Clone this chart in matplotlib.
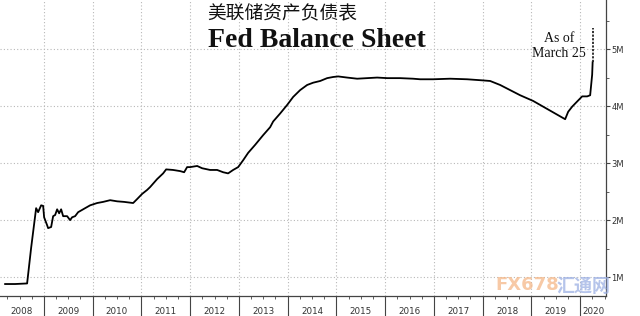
import matplotlib
matplotlib.use("Agg")
import matplotlib.pyplot as plt
from matplotlib.ticker import FixedLocator, NullFormatter

# ---- data (decimal year, trillions) ----
years = [2008.205, 2008.410, 2008.656, 2008.738, 2008.841, 2008.882, 2008.944, 2008.985,
         2009.005, 2009.067, 2009.087, 2009.149, 2009.190, 2009.231, 2009.272, 2009.313,
         2009.354, 2009.395, 2009.477, 2009.538, 2009.579, 2009.641, 2009.703, 2009.785,
         2009.846, 2009.949, 2010.092, 2010.215, 2010.359, 2010.503, 2010.646, 2010.831,
         2010.913, 2011.015, 2011.118, 2011.179, 2011.323, 2011.446, 2011.508, 2011.651,
         2011.795, 2011.877, 2011.938, 2012.000, 2012.144, 2012.246, 2012.410, 2012.554,
         2012.677, 2012.779, 2012.882, 2012.985, 2013.087, 2013.190, 2013.333, 2013.497,
         2013.641, 2013.703, 2013.846, 2013.990, 2014.113, 2014.256, 2014.400, 2014.523,
         2014.667, 2014.810, 2014.933, 2015.036, 2015.220, 2015.426, 2015.631, 2015.836,
         2016.041, 2016.308, 2016.574, 2016.718, 2016.985, 2017.333, 2017.682, 2018.010,
         2018.154, 2018.359, 2018.564, 2018.769, 2019.036, 2019.241, 2019.446, 2019.692,
         2019.754, 2019.836, 2019.938, 2020.041, 2020.144, 2020.205, 2020.246, 2020.256]
values = [0.88, 0.88, 0.89, 1.51, 2.21, 2.14, 2.26, 2.25,
          2.05, 1.91, 1.86, 1.88, 2.07, 2.09, 2.19, 2.12,
          2.19, 2.07, 2.07, 2.00, 2.05, 2.07, 2.14, 2.18,
          2.21, 2.26, 2.30, 2.32, 2.35, 2.33, 2.32, 2.30,
          2.37, 2.46, 2.53, 2.58, 2.72, 2.82, 2.89, 2.88,
          2.86, 2.84, 2.93, 2.93, 2.95, 2.91, 2.88, 2.88,
          2.84, 2.82, 2.88, 2.93, 3.05, 3.18, 3.32, 3.49,
          3.63, 3.73, 3.87, 4.02, 4.16, 4.28, 4.37, 4.41,
          4.44, 4.49, 4.51, 4.52, 4.50, 4.48, 4.49, 4.50,
          4.49, 4.49, 4.48, 4.47, 4.47, 4.48, 4.47, 4.45,
          4.44, 4.37, 4.28, 4.19, 4.09, 3.99, 3.89, 3.77,
          3.90, 3.99, 4.08, 4.17, 4.17, 4.19, 4.55, 4.77]
proj_years = [2020.256, 2020.256]
proj_values = [4.77, 5.37]

year_labels = [str(y) for y in range(2008, 2021)]
ytick_vals = [1, 2, 3, 4, 5]
ytick_labels = ["1M", "2M", "3M", "4M", "5M"]

title_cn = "美联储资产负债表"
title_en = "Fed Balance Sheet"
note = "As of\nMarch 25"

# ---- figure ----
W, H = 640, 316
fig = plt.figure(figsize=(W / 100, H / 100), dpi=100)
ax = fig.add_axes([0, 20 / H, 606 / W, 296 / H])

xmin, xmax = 2008.10, 2020.53
ax.set_xlim(xmin, xmax)
ax.set_ylim(0.67, 5.86)

ax.plot(years, values, color="black", lw=1.3, solid_joinstyle="round")
ax.plot(proj_years, proj_values, color="#222222", lw=1.3, ls=(0, (1.2, 0.8)))

# grid
for y in range(2009, 2021):
    ax.axvline(y, color="#b8b8b8", lw=0.8, ls=(0, (1, 2)), zorder=0)
for v in ytick_vals:
    ax.axhline(v, color="#b8b8b8", lw=0.8, ls=(0, (1, 2)), zorder=0)

# spines
for s in ["top", "left"]:
    ax.spines[s].set_visible(False)
for s in ["right", "bottom"]:
    ax.spines[s].set_color("#444444")
    ax.spines[s].set_linewidth(0.9)

# y axis on right
ax.yaxis.tick_right()
ax.set_yticks(ytick_vals)
ax.set_yticklabels(ytick_labels)
ax.yaxis.set_minor_locator(FixedLocator([1.5, 2.5, 3.5, 4.5, 5.5]))
ax.tick_params(axis="y", which="major", length=3, width=0.8, colors="#444444",
               labelsize=6, pad=1, labelcolor="#333333")
ax.tick_params(axis="y", which="minor", length=2, width=0.6, colors="#444444")

# x axis: long year separators, quarterly minor ticks
ax.set_xticks(list(range(2009, 2021)))
ax.xaxis.set_major_formatter(NullFormatter())
quarters = [y + q / 4 for y in range(2008, 2021) for q in (1, 2, 3)]
ax.xaxis.set_minor_locator(FixedLocator([q for q in quarters if xmin < q < xmax]))
ax.tick_params(axis="x", which="major", length=15, width=0.8, colors="#444444")
ax.tick_params(axis="x", which="minor", length=2.5, width=0.6, colors="#444444")

for lab in year_labels:
    y0 = int(lab)
    c = (max(y0, xmin) + min(y0 + 1, xmax)) / 2
    ax.text(c, -15 / 296, lab, transform=ax.get_xaxis_transform(), ha="center",
            va="center", fontsize=6.3, color="#333333", clip_on=False)

# titles
fig.text(207 / W, 1 - 14 / H, title_cn, fontsize=13.5, family=["Noto Sans CJK SC", "DejaVu Sans"],
         ha="left", va="center", color="#111111")
fig.text(208 / W, 1 - 47 / H, title_en, fontsize=20, family="Liberation Serif",
         weight="bold", ha="left", va="baseline", color="#111111")
fig.text(559 / W, 1 - 46 / H, note, fontsize=10, family="Liberation Serif",
         ha="center", va="center", color="#111111", linespacing=1.2)

# watermark
fig.text(495 / W, 1 - 285 / H, "FX678", fontsize=13, weight="bold", color="#f5b888",
         alpha=0.75, ha="left", va="center", family="DejaVu Sans")
fig.text(557 / W, 1 - 287 / H, "汇通网", fontsize=13, weight="bold", color="#9cb0e4",
         alpha=0.75, ha="left", va="center", family=["Noto Sans CJK SC", "DejaVu Sans"])

fig.savefig("out.png", dpi=100)
